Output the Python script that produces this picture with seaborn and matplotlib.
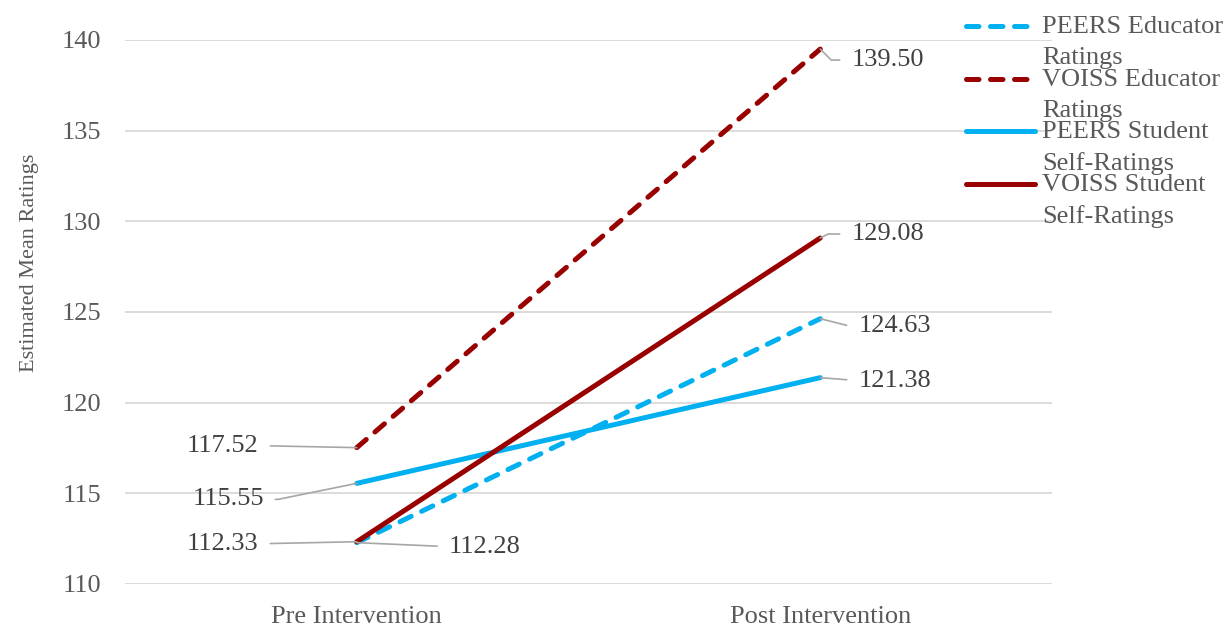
import matplotlib
matplotlib.use("Agg")
import matplotlib.pyplot as plt
from matplotlib.lines import Line2D
import seaborn as sns
import pandas as pd

# Time points and series
phases = ["Pre Intervention", "Post Intervention"]
series = ["PEERS Educator Ratings", "VOISS Educator Ratings",
          "PEERS Student Self-Ratings", "VOISS Student Self-Ratings"]
peers_educator = [112.28, 124.63]
voiss_educator = [117.52, 139.50]
peers_student = [115.55, 121.38]
voiss_student = [112.33, 129.08]
legend_lines = [("PEERS Educator", "Ratings"), ("VOISS Educator", "Ratings"),
                ("PEERS Student", "Self-Ratings"), ("VOISS Student", "Self-Ratings")]

values = [peers_educator, voiss_educator, peers_student, voiss_student]
rows = []
for name, vals in zip(series, values):
    for i, (ph, v) in enumerate(zip(phases, vals)):
        rows.append({"series": name, "phase": ph, "pos": i, "value": v})
df = pd.DataFrame(rows)

BLUE = "#00B0F0"
RED = "#990000"
palette = {series[0]: BLUE, series[1]: RED, series[2]: BLUE, series[3]: RED}
dashes = {series[0]: (2.5, 2.3), series[1]: (2.5, 2.3), series[2]: "", series[3]: ""}

sns.set_theme(style="white")
plt.rcParams["font.family"] = ["Liberation Serif", "DejaVu Serif"]

fig = plt.figure(figsize=(12.27, 6.27), dpi=100)
ax = fig.add_axes([125 / 1227, 1 - 584 / 627, (1052 - 125) / 1227, (584 - 40) / 627])

ax.set_axisbelow(True)
ax.yaxis.grid(True, color="#D9D9D9", lw=1.3)
ax.xaxis.grid(False)

sns.lineplot(data=df, x="pos", y="value", hue="series", style="series",
             palette=palette, dashes=dashes, hue_order=series, style_order=series,
             lw=3.6, legend=False, ax=ax, sort=False)
for ln in ax.get_lines():
    ln.set_dash_capstyle("round")
    ln.set_solid_capstyle("round")

ax.set_xlim(-0.5, 1.5)
ax.set_ylim(110, 140)
ax.set_yticks([110, 115, 120, 125, 130, 135, 140])
ax.set_xticks([0, 1])
ax.set_xticklabels(phases)
ax.tick_params(axis="both", length=0, labelsize=19, colors="#595959")
ax.tick_params(axis="y", pad=17)
ax.tick_params(axis="x", pad=16)
ax.set_xlabel("")
ax.set_ylabel("Estimated Mean Ratings", fontsize=16, color="#595959")
ax.yaxis.set_label_coords(-0.093, 0.59)
for sp in ax.spines.values():
    sp.set_visible(False)

# Data labels with leader lines: (series index, point index, dx, dy, ha, connection)
label_specs = [
    (1, 1, 31, -11, "left", "angle,angleA=0,angleB=-45,rad=0"),
    (3, 1, 31, 4, "left", "angle,angleA=0,angleB=27,rad=0"),
    (0, 1, 38, -7, "left", "angle,angleA=0,angleB=-14,rad=0"),
    (2, 1, 38, -3, "left", "arc3"),
    (1, 0, -98, 2, "right", "arc3"),
    (2, 0, -93, -16, "right", "angle,angleA=0,angleB=11.5,rad=0"),
    (3, 0, -98, -2, "right", "arc3"),
    (0, 0, 92, -4, "left", "arc3"),
]
for si, pi, dx, dy, ha, conn in label_specs:
    v = values[si][pi]
    ax.annotate(f"{v:.2f}", xy=(pi, v), xytext=(dx, dy), textcoords="offset pixels",
                ha=ha, va="center", fontsize=19, color="#404040",
                arrowprops=dict(arrowstyle="-", color="#A6A6A6", lw=1.2,
                                shrinkA=6, shrinkB=0,
                                relpos=(0, 0.5) if ha == "left" else (1, 0.5),
                                connectionstyle=conn))

# Legend drawn in figure coordinates
W, H = 1227, 627
for k, ((l1, l2), name) in enumerate(zip(legend_lines, series)):
    yc = 26 + k * 52.7
    is_dash = "Educator" in name
    h = Line2D([966 / W, 1035 / W], [1 - yc / H, 1 - yc / H], transform=fig.transFigure,
               color=palette[name], lw=3.6, solid_capstyle="round", dash_capstyle="round",
               linestyle=(0, (2.5, 2.3)) if is_dash else "-")
    fig.add_artist(h)
    fig.text(1042 / W, 1 - (yc + 1) / H, l1, ha="left", va="center", fontsize=19, color="#595959")
    fig.text(1042 / W, 1 - (yc + 32) / H, l2, ha="left", va="center", fontsize=19, color="#595959")

fig.savefig("out.png", dpi=100)
